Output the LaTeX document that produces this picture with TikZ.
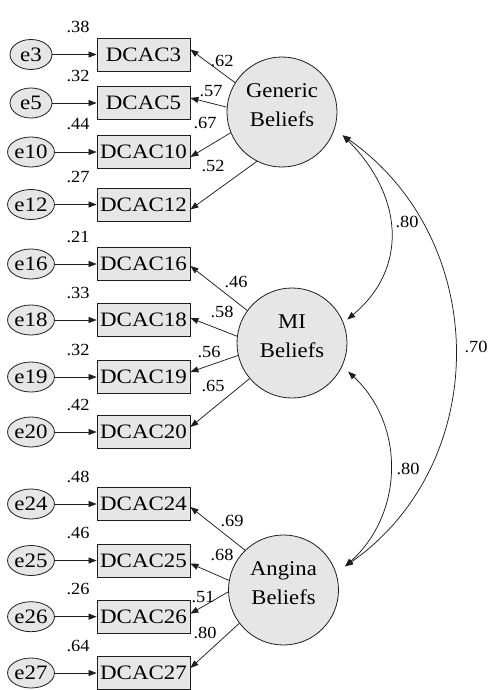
\documentclass[tikz,border=0pt]{standalone}
\usepackage{fontspec}
\setmainfont{Liberation Serif}[FakeStretch=1.08]
\newfontfamily\boxfont{Liberation Serif}[FakeStretch=1.12]
\usetikzlibrary{arrows.meta,calc,shapes.geometric}
\definecolor{fillg}{RGB}{230,230,232}
\definecolor{linec}{RGB}{30,30,30}
\begin{document}
\begin{tikzpicture}[x=1pt,y=1pt,
  obs/.style={draw=linec, fill=fillg, line width=0.8pt, minimum width=93pt, minimum height=33pt, inner sep=0pt, font=\boxfont\fontsize{20.5}{22}\selectfont},
  err/.style={draw=linec, fill=fillg, line width=0.8pt, ellipse, minimum width=42pt, minimum height=30pt, inner sep=0pt, font=\boxfont\fontsize{20.5}{22}\selectfont},
  lat/.style={draw=linec, fill=fillg, line width=0.8pt, circle, minimum size=110pt, inner sep=0pt, align=center, text depth=14pt, font=\fontsize{21}{29}\selectfont},
  lbl/.style={inner sep=0pt, font=\fontsize{17}{19}\selectfont},
  arr/.style={draw=linec, line width=0.75pt, -{Triangle[length=8pt,width=6pt]}},
  cov/.style={draw=linec, line width=0.75pt, {Triangle[length=8pt,width=6pt]}-{Triangle[length=8pt,width=6pt]}}
]
\useasboundingbox (0,0) rectangle (492,-690);

% latent variables
\node[lat] (G) at (282,-112) {Generic\\Beliefs};
\node[lat] (M) at (292,-343) {MI\\Beliefs};
\node[lat] (A) at (283.5,-590) {Angina\\Beliefs};

% indicators, errors, variance labels
\foreach \n/\r/\v in {3/54.5/.38, 5/103/.32, 10/152/.44, 12/204.5/.27,
                      16/264/.21, 18/320/.33, 19/377/.32, 20/432/.42,
                      24/504/.48, 25/560.5/.46, 26/616.7/.26, 27/673/.64}{
  \node[obs] (d\n) at (143.5,-\r) {DCAC\n};
  \node[err] (e\n) at (31,-\r) {e\n};
  \node[lbl] (v\n) at (78,-\r+27.5) {\v};
  \draw[arr] (e\n) -- (d\n);
}

% loadings
\draw[arr] (G.148) -- ([yshift=5pt]d3.east);
\draw[arr] (G.175) -- ([yshift=5pt]d5.east);
\draw[arr] (G.202) -- ([yshift=-5pt]d10.east);
\draw[arr] (G.243) -- ([yshift=-5pt]d12.east);
\draw[arr] (M.144) -- ([yshift=-2pt]d16.east);
\draw[arr] (M.173) -- ([yshift=2pt]d18.east);
\draw[arr] (M.193) -- ([yshift=5pt]d19.east);
\draw[arr] (M.220) -- ([yshift=5pt]d20.east);
\draw[arr] (A.134) -- ([yshift=-3pt]d24.east);
\draw[arr] (A.170) -- ([yshift=-3pt]d25.east);
\draw[arr] (A.182) -- ([yshift=3pt]d26.east);
\draw[arr] (A.217) -- ([yshift=5pt]d27.east);

\node[lbl] (l3) at (222,-61) {.62};
\node[lbl] (l5) at (211,-91) {.57};
\node[lbl] (l10) at (205,-123) {.67};
\node[lbl] (l12) at (213,-166) {.52};
\node[lbl] (l16) at (236,-282) {.46};
\node[lbl] (l18) at (222,-312) {.58};
\node[lbl] (l19) at (209,-352) {.56};
\node[lbl] (l20) at (213,-386) {.65};
\node[lbl] (l24) at (232,-521) {.69};
\node[lbl] (l25) at (222,-555) {.68};
\node[lbl] (l26) at (203,-597) {.51};
\node[lbl] (l27) at (205,-633) {.80};

% covariances
\path (G) ++(-21:65) coordinate (Gc);
\path (M) ++(23:60) coordinate (Mu);
\path (M) ++(-27:63) coordinate (Ml);
\path (A) ++(21:66) coordinate (Ac);
\draw[cov] (Gc) .. controls +(60,-60) and +(62,52) .. (Mu);
\draw[cov] (Ml) .. controls +(57,-53) and +(59,53) .. (Ac);
\draw[cov] (Gc) .. controls +(148,-104) and +(148,104) .. (Ac);
\node[lbl] (c1) at (407,-222) {.80};
\node[lbl] (c2) at (408,-469) {.80};
\node[lbl] (c3) at (476,-347) {.70};
\end{tikzpicture}
\end{document}
